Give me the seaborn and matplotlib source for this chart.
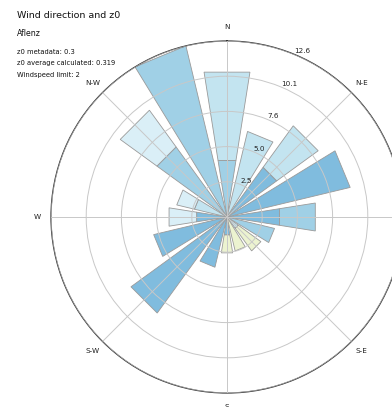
import numpy as np
import matplotlib
matplotlib.use("Agg")
import matplotlib.pyplot as plt
import seaborn as sns

# Wind sectors (degrees, clockwise from north)
directions = [0, 22.5, 45, 67.5, 90, 112.5, 135, 157.5,
              180, 202.5, 225, 247.5, 270, 292.5, 315, 337.5]

# Inner stack segment (length from centre) and its shade class
inner_len = [4.1, 0.0, 4.4, 0.0, 3.8, 0.0, 1.0, 0.0,
             1.3, 0.0, 0.0, 0.0, 2.2, 2.4, 6.2, 0.0]
inner_cls = [1, 2, 0, 0, 0, 1, 2, 4,
             0, 0, 0, 0, 0, 2, 1, 1]

# Total bar length and shade class of the outer segment
total_len = [10.5, 6.3, 8.07, 9.07, 6.4, 3.5, 3.0, 2.5,
             2.6, 3.7, 8.5, 5.4, 4.2, 3.7, 9.45, 12.6]
outer_cls = [2, 2, 2, 0, 1, 1, 4, 4,
             4, 0, 0, 0, 3, 3, 3, 1]

compass_labels = ["N", "N-E", "E", "S-E", "S", "S-W", "W", "N-W"]

title = "Wind direction and z0"
station = "Aflenz"
info_lines = ["z0 metadata: 0.3",
              "z0 average calculated: 0.319",
              "Windspeed limit: 2"]

sns.set_theme(style="white")
plt.rcParams["font.family"] = ["DejaVu Sans"]

shades = sns.color_palette(["#80bcde", "#a0d0e6", "#c3e4f0", "#daeff7", "#ecf3d0"])

fig = plt.figure(figsize=(3.92, 4.07), dpi=100)
ax = fig.add_axes([51 / 392, 14 / 407, 352 / 392, 352 / 407], projection="polar")
ax.set_theta_zero_location("N")
ax.set_theta_direction(-1)

theta = np.deg2rad(directions)
width = np.deg2rad(22.5 * 0.8)
inner = np.array(inner_len)
total = np.array(total_len)

bars_in = ax.bar(theta, inner, width=width, bottom=0,
                 color=[shades[c] for c in inner_cls],
                 edgecolor="#9a9a9a", linewidth=0.6)
bars_out = ax.bar(theta, total - inner, width=width, bottom=inner,
                  color=[shades[c] for c in outer_cls],
                  edgecolor="#9a9a9a", linewidth=0.6)
# flat (chord) ends on the wedges
for p in list(bars_in) + list(bars_out):
    p.get_path()._interpolation_steps = 1

rmax = max(total_len)
ax.set_ylim(0, rmax)
rt = np.linspace(0, rmax, 6)[1:]
ax.set_yticks(rt)
ax.set_yticklabels([f"{v:.1f}" for v in rt], fontsize=5.2, color="#222222")
ax.set_rlabel_position(22.5)

ax.set_thetagrids(np.arange(0, 360, 45), compass_labels, fontsize=5.2, color="#222222")
ax.tick_params(axis="x", pad=-3)

ax.set_axisbelow(False)
ax.grid(True, color="#c8c8c8", linewidth=0.7)
ax.spines["polar"].set_color("#333333")
ax.spines["polar"].set_linewidth(0.9)

fig.text(17 / 392, 1 - 16 / 407, title, fontsize=6.8, va="center", color="#111111")
fig.text(17 / 392, 1 - 33 / 407, station, fontsize=5.6, va="center", color="#111111")
for i, line in enumerate(info_lines):
    fig.text(17 / 392, 1 - (52 + 11.5 * i) / 407, line, fontsize=4.9,
             va="center", color="#111111")

fig.savefig("out.png", dpi=100)
